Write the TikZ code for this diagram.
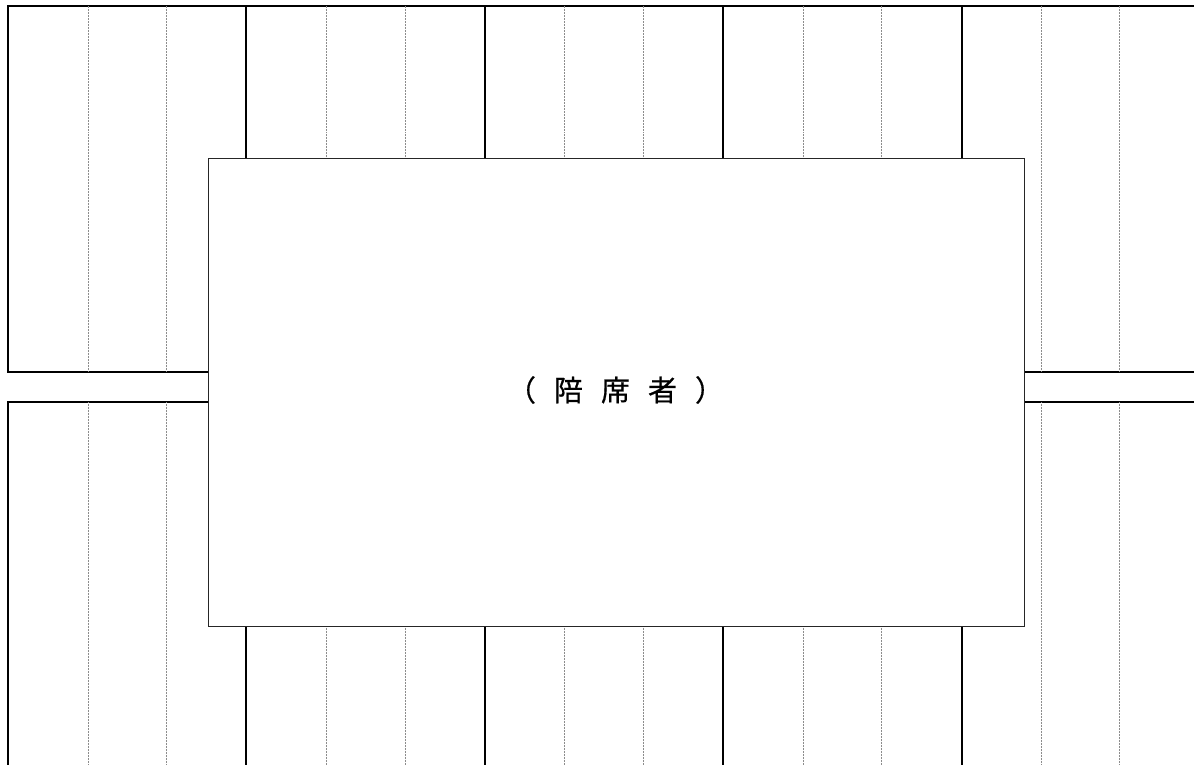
\documentclass[tikz,border=0pt]{standalone}
\usepackage{fontspec}
\newfontfamily\cjk[FakeBold=0.6]{Noto Sans CJK JP}
\tikzset{
  wall/.style={line width=1.6pt, black},
  seam/.style={line width=0.9pt, gray!90, dash pattern=on 1pt off 0.5pt},
  tablebox/.style={draw=black!85, line width=0.9pt, fill=white, minimum width=816pt, minimum height=468pt, inner sep=0pt},
  labeltext/.style={font=\cjk\fontsize{29pt}{32pt}\selectfont, inner sep=0pt}
}
\begin{document}
\begin{tikzpicture}[x=1pt,y=-1pt]
\useasboundingbox (0,0) rectangle (1194,765);
% outer frame pieces
\draw[wall] (7,6) -- (1194,6);
\draw[wall] (8,6) -- (8,372) -- (208,372);
\draw[wall] (8,765) -- (8,402) -- (208,402);
\draw[wall] (1024,372) -- (1194,372);
\draw[wall] (1024,402) -- (1194,402);
% solid dividers
\foreach \x in {246,485,723,962}{
  \draw[wall] (\x,6) -- (\x,158);
  \draw[wall] (\x,626) -- (\x,765);
}
% dotted seams, full height sides
\foreach \x in {88,166,1041,1119}{
  \draw[seam] (\x,6) -- (\x,372);
  \draw[seam] (\x,402) -- (\x,765);
}
% dotted seams, middle
\foreach \x in {326,405,564,643,803,881}{
  \draw[seam] (\x,6) -- (\x,158);
  \draw[seam] (\x,626) -- (\x,765);
}
\node[tablebox] (table) at (616,392) {};
\node[labeltext] (label) at (615.5,390) {（\hspace{18pt}陪\hspace{18pt}席\hspace{18pt}者\hspace{18pt}）};
\end{tikzpicture}
\end{document}
